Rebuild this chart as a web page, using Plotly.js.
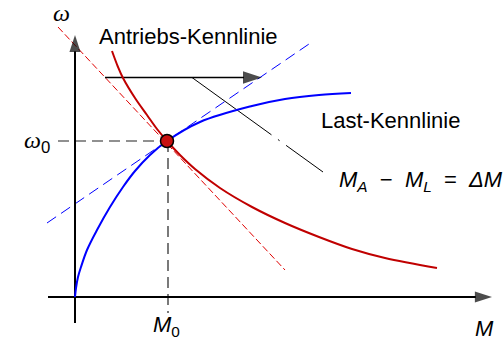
<!DOCTYPE html>
<html>
<head>
<meta charset="utf-8">
<script src="https://cdn.plot.ly/plotly-3.0.1.min.js"></script>
<style>html,body{margin:0;padding:0;background:#fff;}#chart{width:504px;height:340px;}</style>
</head>
<body>
<div id="chart"></div>
<script>
// Last-Kennlinie (load characteristic): torque M, speed omega
const lastM = [0, 1, 3, 6, 12, 22, 35, 48, 60, 75, 92, 125, 177, 210, 244, 276];
const lastW = [0, 9, 20, 30, 47, 67, 90, 110, 126, 142, 156, 175, 191, 198, 202, 204];
// Antriebs-Kennlinie (drive characteristic)
const antM = [37, 43, 48, 60, 72, 82, 92, 105, 120, 145, 177, 210, 244, 277, 310, 362];
const antW = [246, 230, 219, 199, 182, 168, 156, 142, 128, 109, 90, 74, 60, 48, 39, 29];
// tangents at the operating point
const tanAntM = [-17, 210];
const tanAntW = [270, 27];
const tanLastM = [-28, 234];
const tanLastW = [74, 253];
// operating point
const M0 = 92;
const W0 = 156;
// guide lines
const w0GuideM = [-17, M0];
const m0GuideW = [W0, -16];
// ΔM arrow and pointer
const arrowM = [30, 187];
const arrowW = 219.5;
const pointerM = [117, 248];
const pointerW = [219.5, 125];
// axes
const xAxisM = [-27, 417];
const yAxisW = [-26, 262];

const traces = [
  {x: tanAntM, y: tanAntW, mode: 'lines', line: {color: '#e00000', width: 1, dash: '7px,3px'}},
  {x: tanLastM, y: tanLastW, mode: 'lines', line: {color: '#0000ff', width: 1, dash: '11px,6px'}},
  {x: w0GuideM, y: [W0, W0], mode: 'lines', line: {color: '#222', width: 1.2, dash: '11px,6px'}},
  {x: [M0 + 1, M0 + 1], y: m0GuideW, mode: 'lines', line: {color: '#222', width: 1.2, dash: '11px,6px'}},
  {x: pointerM, y: pointerW, mode: 'lines', line: {color: '#000', width: 1, dash: '98px,8px,2px,8px'}},
  // axes with arrowheads
  {x: xAxisM, y: [0, 0], mode: 'lines+markers', line: {color: '#000', width: 2},
   marker: {symbol: 'arrow', size: [0, 18], angleref: 'previous', color: '#000', line: {width: 0}}},
  {x: [0, 0], y: yAxisW, mode: 'lines+markers', line: {color: '#000', width: 2},
   marker: {symbol: 'arrow', size: [0, 18], angleref: 'previous', color: '#000', line: {width: 0}}},
  // ΔM arrow
  {x: arrowM, y: [arrowW, arrowW], mode: 'lines+markers', line: {color: '#000', width: 1.5},
   marker: {symbol: 'arrow', size: [0, 20], angleref: 'previous', color: '#000', line: {width: 0}}},
  {x: lastM, y: lastW, mode: 'lines', line: {color: '#0000ff', width: 2, shape: 'spline', smoothing: 1}},
  {x: antM, y: antW, mode: 'lines', line: {color: '#c00000', width: 2, shape: 'spline', smoothing: 1}},
  {x: [M0], y: [W0], mode: 'markers', marker: {size: 13, color: '#c81010', line: {color: '#000', width: 1.5}}}
];

const sans = 'Liberation Sans, Arial, sans-serif';
const serif = 'Liberation Serif, Times New Roman, serif';
const txtFont = {family: sans, size: 22, color: '#000'};
const annotations = [
  {x: 113.5, y: 261, text: 'Antriebs-Kennlinie', font: txtFont},
  {x: 315, y: 177, text: 'Last-Kennlinie', font: txtFont},
  {x: 346, y: 116, text: '<i>M</i><sub><i>A</i></sub>&nbsp;&nbsp;−&nbsp;&nbsp;<i>M</i><sub><i>L</i></sub>&nbsp;&nbsp;=&nbsp;&nbsp;<i>ΔM</i>', font: txtFont},
  {x: -14, y: 284, text: '<i>ω</i>', font: {family: serif, size: 24, color: '#000'}},
  {x: -23, y: 155, xanchor: 'right', text: '<i>ω</i><sub><span style="font-family:Liberation Sans">0</span></sub>', font: {family: serif, size: 24, color: '#000'}},
  {x: 91, y: -29, text: '<i>M</i><sub>0</sub>', font: txtFont},
  {x: 409, y: -31, text: '<i>M</i>', font: txtFont}
].map(a => Object.assign({xref: 'x', yref: 'y', showarrow: false}, a));

const layout = {
  width: 504, height: 340,
  margin: {l: 0, r: 0, t: 0, b: 0, pad: 0},
  paper_bgcolor: '#fff', plot_bgcolor: '#fff',
  showlegend: false,
  xaxis: {range: [-75, 429], visible: false, fixedrange: true},
  yaxis: {range: [-43, 297], visible: false, fixedrange: true},
  annotations: annotations
};

Plotly.newPlot('chart', traces, layout, {staticPlot: true, displayModeBar: false});
</script>
</body>
</html>
